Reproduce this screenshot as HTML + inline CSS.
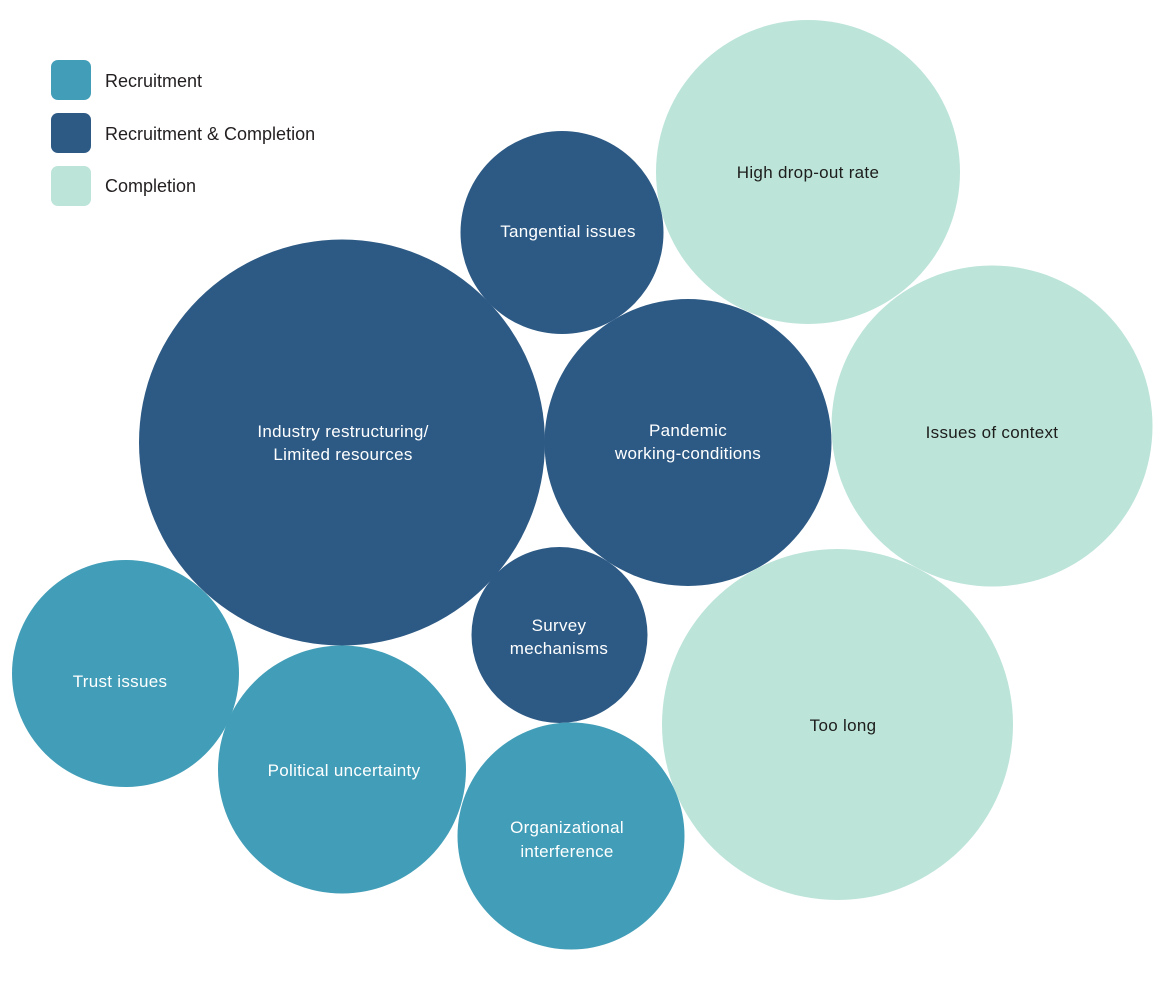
<!DOCTYPE html>
<html>
<head>
<meta charset="utf-8">
<style>
  html, body { margin: 0; padding: 0; background: #ffffff; }
  body { width: 1170px; height: 982px; overflow: hidden; }
  svg { display: block; }
  text { font-family: "Liberation Sans", Arial, sans-serif; }
</style>
</head>
<body>
<svg width="1170" height="982" viewBox="0 0 1170 982" xmlns="http://www.w3.org/2000/svg">
  <rect x="0" y="0" width="1170" height="982" fill="#ffffff"/>

  <!-- Legend -->
  <rect x="51" y="60" width="40" height="40" rx="7" ry="7" fill="#429eb8"/>
  <rect x="51" y="113" width="40" height="40" rx="7" ry="7" fill="#2d5a85"/>
  <rect x="51" y="166" width="40" height="40" rx="7" ry="7" fill="#bce4d9"/>
  <text x="105" y="87" font-size="18" fill="#231f20">Recruitment</text>
  <text x="105" y="140" font-size="18" fill="#231f20">Recruitment &amp; Completion</text>
  <text x="105" y="192" font-size="18" fill="#231f20">Completion</text>

  <!-- Circles -->
  <circle cx="342" cy="442.5" r="203" fill="#2d5a85"/>
  <circle cx="562" cy="232.5" r="101.5" fill="#2d5a85"/>
  <circle cx="808" cy="172" r="152" fill="#bce4d9"/>
  <circle cx="688" cy="442.5" r="143.5" fill="#2d5a85"/>
  <circle cx="992" cy="426" r="160.5" fill="#bce4d9"/>
  <circle cx="837.5" cy="724.5" r="175.5" fill="#bce4d9"/>
  <circle cx="559.5" cy="635" r="88" fill="#2d5a85"/>
  <circle cx="125.5" cy="673.5" r="113.5" fill="#429eb8"/>
  <circle cx="342" cy="769.5" r="124" fill="#429eb8"/>
  <circle cx="571" cy="836" r="113.5" fill="#429eb8"/>

  <!-- Labels -->
  <g font-size="17" text-anchor="middle" fill="#ffffff" letter-spacing="0.3">
    <text x="343" y="437">Industry restructuring/</text>
    <text x="343" y="460">Limited resources</text>
    <text x="568" y="237">Tangential issues</text>
    <text x="688" y="436">Pandemic</text>
    <text x="688" y="459">working-conditions</text>
    <text x="559" y="631">Survey</text>
    <text x="559" y="654">mechanisms</text>
    <text x="120" y="687">Trust issues</text>
    <text x="344" y="776">Political uncertainty</text>
    <text x="567" y="833">Organizational</text>
    <text x="567" y="857">interference</text>
  </g>
  <g font-size="17" text-anchor="middle" fill="#1d1d1b" letter-spacing="0.3">
    <text x="808" y="178">High drop-out rate</text>
    <text x="992" y="438">Issues of context</text>
    <text x="843" y="731">Too long</text>
  </g>
</svg>
</body>
</html>
